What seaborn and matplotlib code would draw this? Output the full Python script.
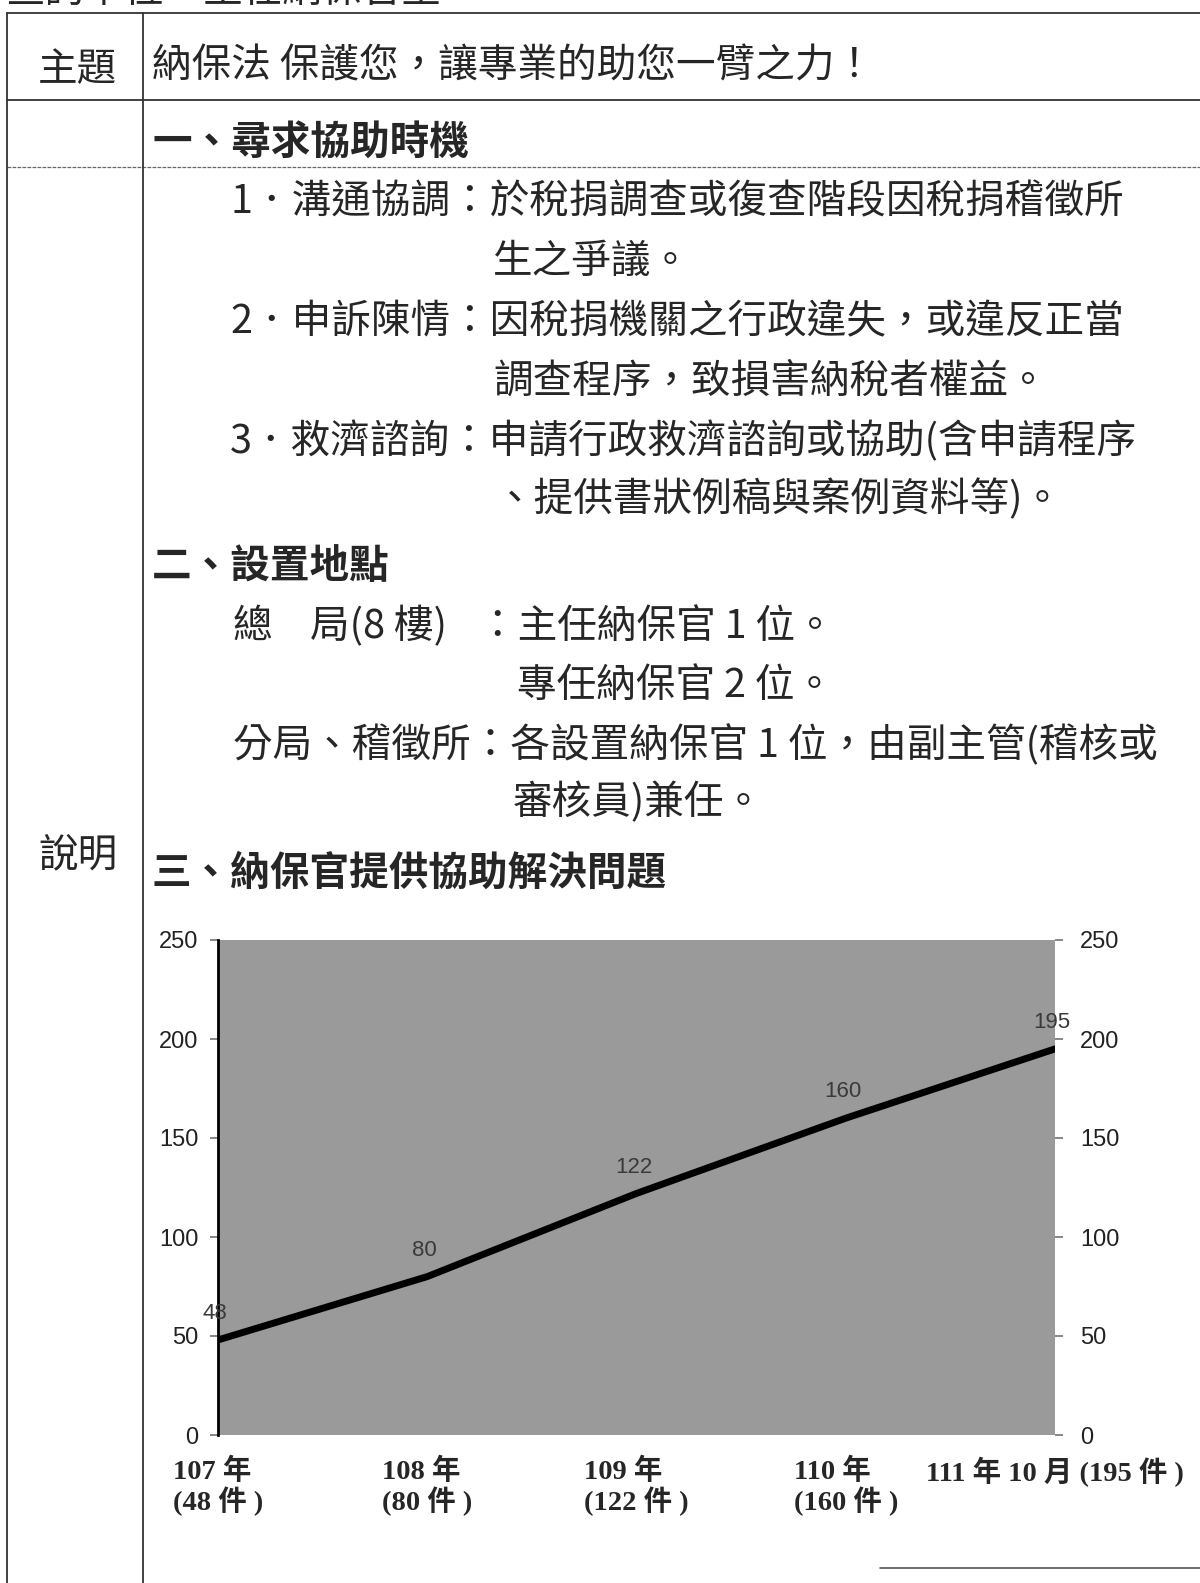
import matplotlib
matplotlib.use('Agg')
import matplotlib.pyplot as plt
from matplotlib.lines import Line2D
import seaborn as sns

# 資料
years = ['107 年\n(48 件 )', '108 年\n(80 件 )', '109 年\n(122 件 )', '110 年\n(160 件 )', '111 年 10 月 (195 件 )']
cases = [48, 80, 122, 160, 195]
yticks = [0, 50, 100, 150, 200, 250]

header_cut = '查詢單位：主任納保官室'
topic_label = '主題'
topic_text = '納保法 保護您，讓專業的助您一臂之力！'
desc_label = '說明'
sec1 = '一、尋求協助時機'
sec2 = '二、設置地點'
sec3 = '三、納保官提供協助解決問題'

sns.set_theme(style='white')
plt.rcParams['font.family'] = ['Noto Sans CJK TC', 'DejaVu Sans']

W, H = 1200, 1583
fig = plt.figure(figsize=(12, 15.83), dpi=100)
fig.patch.set_facecolor('white')


def fx(px):
    return px / W


def fy(py):
    return 1 - py / H


def hline(y, x0, x1, **kw):
    fig.add_artist(Line2D([fx(x0), fx(x1)], [fy(y), fy(y)], transform=fig.transFigure, **kw))


def vline(x, y0, y1, **kw):
    fig.add_artist(Line2D([fx(x), fx(x)], [fy(y0), fy(y1)], transform=fig.transFigure, **kw))


def txt(x, y, s, size=28.5, weight='normal', **kw):
    fig.text(fx(x), fy(y), s, fontsize=size, fontweight=weight, va='center', ha='left', **kw)


# 表格框線
line_kw = dict(color='#333333', lw=1.3)
hline(13, 7, 1200, **line_kw)
hline(100, 7, 1200, **line_kw)
hline(167, 7, 1200, color='#666666', lw=0.9, ls=(0, (3, 1)))
hline(1568, 880, 1200, color='#555555', lw=1.2)
vline(7, 13, 1583, **line_kw)
vline(143, 13, 1583, **line_kw)

# 文字
txt(5, -9, header_cut)
txt(38, 70, topic_label)
txt(152, 66, topic_text)
txt(152, 142, sec1, weight='bold')
txt(230, 202, '1．溝通協調：於稅捐調查或復查階段因稅捐稽徵所')
txt(493, 262, '生之爭議。')
txt(230, 322, '2．申訴陳情：因稅捐機關之行政違失，或違反正當')
txt(493, 382, '調查程序，致損害納稅者權益。')
txt(230, 442, '3．救濟諮詢：申請行政救濟諮詢或協助(含申請程序')
txt(495, 500, '、提供書狀例稿與案例資料等)。')
txt(152, 567, sec2, weight='bold')
txt(233, 627, '總')
txt(310, 627, '局(8 樓)')
txt(478, 627, '：主任納保官 1 位。')
txt(517, 686, '專任納保官 2 位。')
txt(233, 745, '分局、稽徵所：各設置納保官 1 位，由副主管(稽核或')
txt(513, 803, '審核員)兼任。')
txt(38, 855, desc_label)
txt(152, 873, sec3, weight='bold')

# 圖表
ax = fig.add_axes([fx(218), fy(1435), (1055 - 218) / W, 495 / H])
ax.set_facecolor('#9a9a9a')
xs = list(range(len(cases)))
sns.lineplot(x=xs, y=cases, ax=ax, color='black', lw=5)
ax.set_xlim(0, len(cases) - 1)
ax.set_ylim(0, 250)
ax.set_yticks(yticks)
ax.set_yticklabels([str(v) for v in yticks], fontsize=17, family='Liberation Sans', color='#222222')
ax.set_xticks(xs)
ax.set_xticklabels(years, fontsize=20.5, family=['Liberation Serif', 'Noto Sans CJK TC'],
                   fontweight='bold', multialignment='left', linespacing=1.1)
ax.tick_params(axis='x', length=6, color='#777777', pad=10)
ax.tick_params(axis='y', length=6, color='#777777', pad=8, left=True)
for s in ['top', 'right', 'bottom']:
    ax.spines[s].set_visible(False)
ax.spines['left'].set_color('black')
ax.spines['left'].set_linewidth(2)

for x, v in zip(xs, cases):
    ax.annotate(str(v), (x, v), xytext=(-2, 19), textcoords='offset points',
                ha='center', va='center', fontsize=16, family='Liberation Sans', color='#3a3a3a')

ax2 = ax.twinx()
ax2.set_ylim(0, 250)
ax2.set_yticks(yticks)
ax2.set_yticklabels([str(v) for v in yticks], fontsize=17, family='Liberation Sans', color='#222222')
ax2.tick_params(axis='y', length=6, color='#777777', pad=12, right=True)
for s in ['top', 'right', 'bottom', 'left']:
    ax2.spines[s].set_visible(False)
ax2.grid(False)

fig.savefig('out.png', dpi=100)
